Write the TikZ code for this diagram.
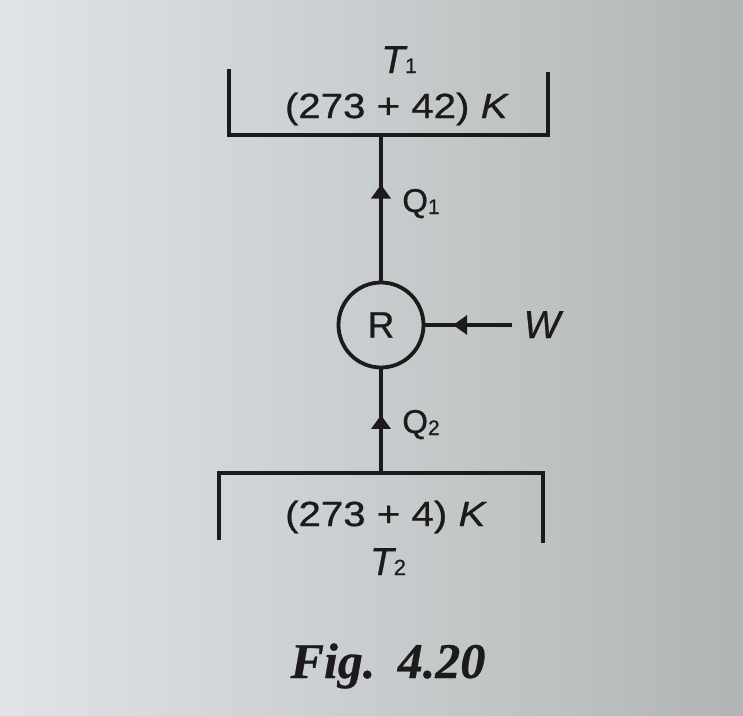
\documentclass[tikz,border=0pt]{standalone}
\usepackage{fontspec}
\setmainfont[FakeBold=0.7]{Liberation Sans}
\newfontfamily\lab[FakeStretch=1.15,FakeBold=0.7]{Liberation Sans}
\newfontfamily\figfont[FakeBold=0.6]{Liberation Serif}
\usetikzlibrary{arrows.meta,decorations.markings}
\definecolor{ink}{RGB}{28,26,28}
\definecolor{bgl}{RGB}{224,228,232}
\definecolor{bgr}{RGB}{176,181,180}
\tikzset{
  wire/.style={draw=ink, line width=3.8pt},
  flow/.style={wire, postaction={decorate},
    decoration={markings, mark=at position #1 with {\arrow[ink]{Triangle[length=14pt,width=19pt]}}}},
  lbl/.style={inner sep=0pt, text=ink, anchor=base},
  big/.style={inner sep=0pt, text=ink},
}
\begin{document}
\begin{tikzpicture}[x=1pt,y=-1pt]
\shade[left color=bgl, right color=bgr] (0,0) rectangle (743,715);
\useasboundingbox (0,0) rectangle (743,715);

% reservoirs
\coordinate (t1a) at (229,69);
\coordinate (t1b) at (229,135);
\coordinate (t1c) at (548,135);
\coordinate (t1d) at (548,72);
\coordinate (t1m) at (381,135);
\draw[wire, line join=miter] (t1a) -- (t1b) -- (t1c) -- (t1d);

\coordinate (t2a) at (219,540);
\coordinate (t2b) at (219,473);
\coordinate (t2c) at (543,473);
\coordinate (t2d) at (543,543);
\coordinate (t2m) at (381,473);
\draw[wire, line join=miter] (t2a) -- (t2b) -- (t2c) -- (t2d);

% refrigerator
\node[circle, draw=ink, line width=3.8pt, minimum size=85pt, inner sep=0pt, text=ink]
  (R) at (381,325) {\fontsize{37}{37}\selectfont R};

\coordinate (wend) at (512,325);

\draw[flow=0.66] (R.north) -- (t1m);
\draw[flow=0.56] (t2m) -- (R.south);
\draw[flow=0.68] (wend) -- (R.east);

% labels
\node[lbl] (T1) at (399,73) {\fontsize{39}{39}\selectfont\itshape T\upshape\fontsize{21}{21}\selectfont 1};
\node[big] (k1) at (397,109) {\lab\fontsize{35}{35}\selectfont (273 + 42) \textit{K}};
\node[lbl] (Q1) at (421,212) {\fontsize{33}{33}\selectfont Q\raisebox{-2pt}{\fontsize{21}{21}\selectfont 1}};
\node[lbl] (Wl) at (542,338) {\fontsize{39}{39}\selectfont\itshape W};
\node[lbl] (Q2) at (421,433) {\fontsize{33}{33}\selectfont Q\raisebox{-2pt}{\fontsize{21}{21}\selectfont 2}};
\node[big] (k2) at (386,517) {\lab\fontsize{35}{35}\selectfont (273 + 4) \textit{K}};
\node[lbl] (T2) at (388,575) {\fontsize{39}{39}\selectfont\itshape T\upshape\fontsize{22}{22}\selectfont 2};

\node[lbl] (cap) at (388,678) {\figfont\fontsize{50}{50}\selectfont\bfseries\itshape Fig.\hspace{0.45em}4.20};
\end{tikzpicture}
\end{document}
